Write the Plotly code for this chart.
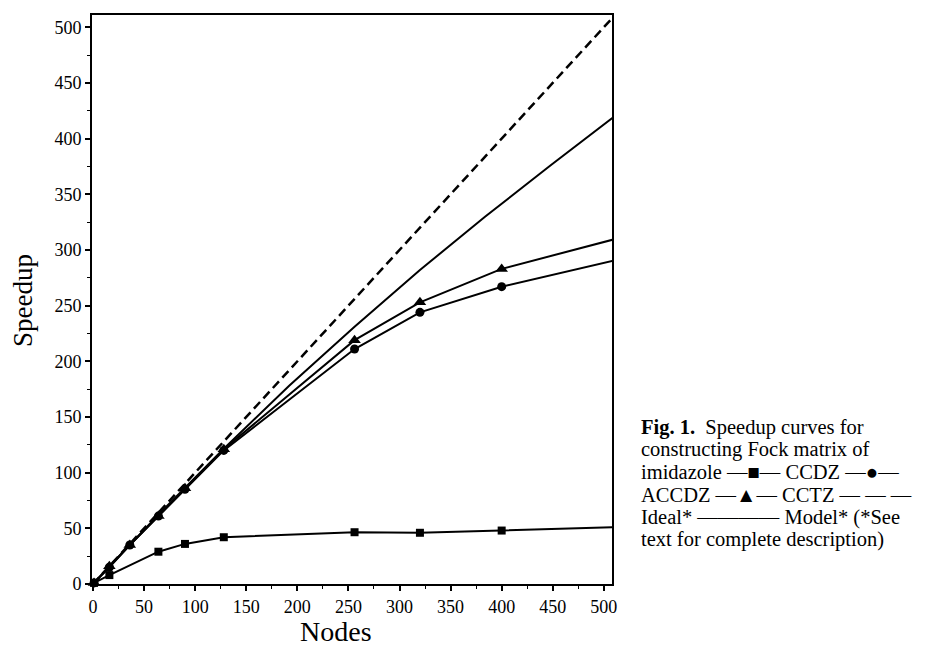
import plotly.graph_objects as go

# ---- data ----
nodes_ccdz = [1, 16, 64, 90, 128, 256, 320, 400]
speedup_ccdz = [1, 8, 29, 36, 42, 46.5, 46, 48]
ccdz_tail_node, ccdz_tail_speedup = 512, 51

nodes_accdz = [1, 16, 36, 64, 90, 128, 256, 320, 400]
speedup_accdz = [1, 15, 35, 61, 85, 120, 211, 244, 267]
accdz_tail_node, accdz_tail_speedup = 512, 291

nodes_cctz = [1, 16, 36, 64, 90, 128, 256, 320, 400]
speedup_cctz = [1, 16, 35, 61, 86, 121, 219, 253, 283]
cctz_tail_node, cctz_tail_speedup = 512, 310

nodes_model = [0, 32, 64, 128, 192, 256, 320, 384, 448, 512]
speedup_model = [0, 31.6, 62.3, 121.5, 178, 231, 282, 330, 376, 421]

nodes_ideal = [0, 512]
speedup_ideal = [0, 512]

x_ticks = list(range(0, 501, 50))
y_ticks = list(range(0, 501, 50))

caption_lines = [
    "<b>Fig. 1.</b>  Speedup curves for",
    "constructing Fock matrix of",
    "imidazole —■— CCDZ —●—",
    "ACCDZ —▲— CCTZ — — —",
    "Ideal* ———— Model* (*See",
    "text for complete description)",
]

FONT = "Liberation Serif, Times New Roman, serif"
OFF = 8  # page body margin
W, H = 929 - OFF, 652 - OFF
# plot area in page pixels: left 92, right 612, top 13, bottom 584
L = 92 - OFF
R = W - (612 - OFF)
T = 13 - OFF
B = H - (584 - OFF)
PW, PH = W - L - R, H - T - B


def px_x(p):
    return (p - OFF - L) / PW


def px_y(p):
    return (H - B - (p - OFF)) / PH


fig = go.Figure()

line_style = dict(color="black", width=2)

fig.add_trace(go.Scatter(x=nodes_ideal, y=speedup_ideal, mode="lines",
                         line=dict(color="black", width=2.5, dash="9px,5px"),
                         showlegend=False, hoverinfo="skip"))
fig.add_trace(go.Scatter(x=nodes_model, y=speedup_model, mode="lines",
                         line=line_style, showlegend=False))

series = [
    (nodes_ccdz, speedup_ccdz, ccdz_tail_node, ccdz_tail_speedup, "square", 8),
    (nodes_accdz, speedup_accdz, accdz_tail_node, accdz_tail_speedup, "circle", 9),
    (nodes_cctz, speedup_cctz, cctz_tail_node, cctz_tail_speedup, "triangle-up", 11),
]
for xs, ys, tx, ty, sym, sz in series:
    fig.add_trace(go.Scatter(x=xs + [tx], y=ys + [ty], mode="lines",
                             line=line_style, showlegend=False))
    fig.add_trace(go.Scatter(x=xs, y=ys, mode="markers",
                             marker=dict(symbol=sym, size=sz, color="black"),
                             cliponaxis=False, showlegend=False))

axis_common = dict(
    showline=True, linecolor="black", linewidth=2, mirror=True,
    ticks="outside", ticklen=5, tickwidth=1.5, tickcolor="black",
    showgrid=False, zeroline=False,
    tickfont=dict(family=FONT, size=18, color="black"),
    minor=dict(ticks="outside", ticklen=3, tickwidth=1, tickcolor="black", dtick=25),
)

fig.update_xaxes(range=[-1, 508], tickvals=x_ticks, **axis_common)
fig.update_yaxes(range=[0, 511], tickvals=y_ticks, **axis_common)

annotations = [
    dict(text="Nodes", x=px_x(336), y=px_y(632), xref="paper", yref="paper",
         xanchor="center", yanchor="middle", showarrow=False,
         font=dict(family=FONT, size=28, color="black")),
    dict(text="Speedup", x=px_x(23), y=px_y(300), xref="paper", yref="paper",
         xanchor="center", yanchor="middle", showarrow=False, textangle=-90,
         font=dict(family=FONT, size=27, color="black")),
]
caption_y = [427, 449.5, 472, 494.5, 517, 539.5]
for txt, cy in zip(caption_lines, caption_y):
    annotations.append(dict(text=txt, x=px_x(640), y=px_y(cy), xref="paper", yref="paper",
                            xanchor="left", yanchor="middle", showarrow=False, align="left",
                            borderpad=0,
                            font=dict(family=FONT, size=20.5, color="black")))

fig.update_layout(
    width=W, height=H,
    margin=dict(l=L, r=R, t=T, b=B),
    paper_bgcolor="white", plot_bgcolor="white",
    annotations=annotations,
    showlegend=False,
)

fig.write_html("out.html")
